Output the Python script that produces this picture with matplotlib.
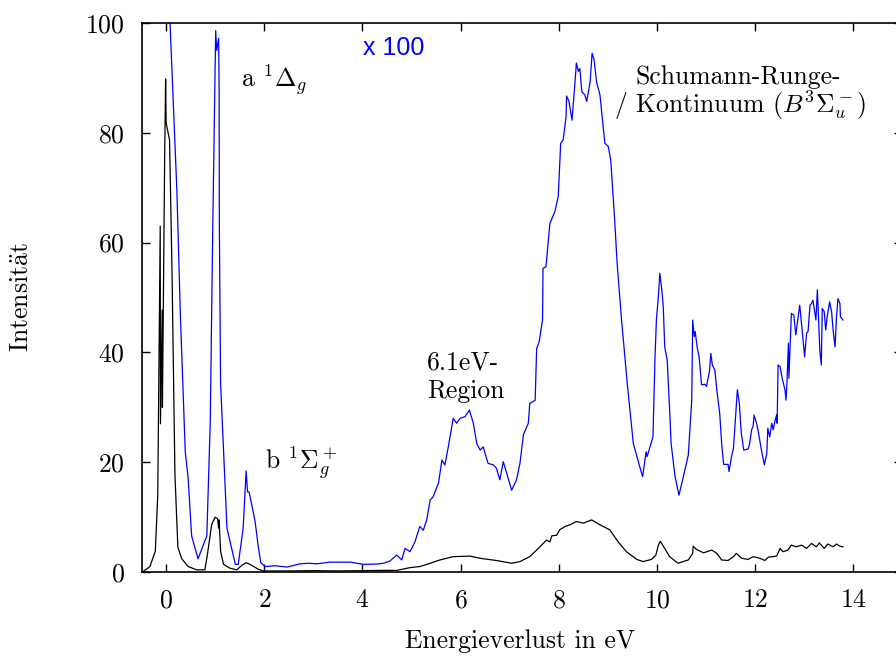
import matplotlib
matplotlib.use('Agg')
import matplotlib.pyplot as plt

plt.rcParams['font.family'] = 'serif'
plt.rcParams['font.serif'] = ['cmr10']
plt.rcParams['mathtext.fontset'] = 'cm'
plt.rcParams['axes.unicode_minus'] = False
plt.rcParams['axes.formatter.use_mathtext'] = True

# spectrum x 100 (blue)
blue_x = [0.05, 0.08, 0.22, 0.29, 0.39, 0.45, 0.52, 0.65, 0.83, 0.90, 0.95, 1.01, 1.03, 1.07, 1.08, 1.085,
          1.11, 1.24, 1.41, 1.47, 1.57, 1.63, 1.66, 1.69, 1.81, 1.88, 1.93, 2.02, 2.22, 2.46, 2.73, 2.90,
          3.07, 3.34, 3.75, 4.02, 4.29, 4.43, 4.56, 4.70, 4.80, 4.87, 4.97, 5.07, 5.17, 5.24, 5.31, 5.38,
          5.44, 5.55, 5.62, 5.68, 5.75, 5.85, 5.92, 5.99, 6.09, 6.18, 6.26, 6.33, 6.40, 6.46, 6.56, 6.67,
          6.73, 6.80, 6.87, 6.95, 7.04, 7.14, 7.21, 7.28, 7.38, 7.41, 7.52, 7.55, 7.60, 7.65, 7.67, 7.68,
          7.74, 7.82, 7.92, 7.99, 8.04, 8.09, 8.15, 8.16, 8.21, 8.27, 8.33, 8.36, 8.40, 8.43, 8.47, 8.53,
          8.57, 8.64, 8.68, 8.72, 8.77, 8.84, 8.94, 9.01, 9.06, 9.14, 9.19, 9.28, 9.40, 9.52, 9.65, 9.71,
          9.78, 9.80, 9.86, 9.92, 9.96, 9.99, 10.03, 10.06, 10.10, 10.13, 10.16, 10.21, 10.26, 10.29, 10.37,
          10.45, 10.54, 10.64, 10.71, 10.73, 10.76, 10.78, 10.82, 10.86, 10.91, 10.98, 11.01, 11.07, 11.10,
          11.13, 11.18, 11.23, 11.28, 11.32, 11.36, 11.45, 11.47, 11.52, 11.56, 11.59, 11.64, 11.68, 11.72,
          11.77, 11.86, 11.89, 11.93, 11.96, 11.98, 12.03, 12.06, 12.13, 12.19, 12.24, 12.26, 12.30, 12.34,
          12.37, 12.41, 12.44, 12.45, 12.47, 12.51, 12.56, 12.61, 12.63, 12.65, 12.68, 12.69, 12.74, 12.79,
          12.83, 12.88, 12.91, 12.96, 13.01, 13.05, 13.08, 13.12, 13.15, 13.18, 13.24, 13.27, 13.32, 13.35,
          13.37, 13.41, 13.44, 13.47, 13.52, 13.56, 13.59, 13.63, 13.66, 13.69, 13.73, 13.74, 13.79]
blue_y = [110, 100, 69.3, 47, 21.9, 17, 6.6, 2.4, 6.6, 27.5, 62.3, 98.6, 95, 97.2, 88, 63,
          34.4, 8, 1.4, 1.4, 8, 18.4, 14.6, 14.6, 9.4, 4.5, 1.7, 1.0, 1.15, 0.9, 1.5, 1.6,
          1.5, 1.8, 1.8, 1.4, 1.45, 1.6, 2.0, 3.1, 2.2, 4.3, 3.7, 5.5, 8.3, 7.6, 9.5, 13.1,
          13.7, 16.2, 20.4, 19.5, 22.8, 28.0, 27.1, 28.0, 28.3, 29.5, 27.1, 23.4, 22.2, 22.8, 19.8, 19.5,
          18.9, 16.8, 20.1, 17.7, 14.9, 16.8, 19.8, 25.0, 27.1, 30.7, 31.3, 40.7, 41.9, 44.7, 45.9, 55.3,
          55.6, 63.5, 65.6, 68.4, 78.1, 78.7, 82.9, 86.7, 85.7, 82.3, 89.0, 92.7, 91.2, 91.7, 87.5, 86.9,
          85.7, 89.3, 94.5, 93.3, 89.3, 86.9, 78.1, 77.5, 75.0, 64.1, 56.2, 45.9, 34.0, 23.4, 19.2, 17.4,
          21.9, 21.0, 22.8, 24.6, 38.6, 45.9, 50.1, 54.4, 51.4, 48.3, 41.0, 38.6, 29.5, 23.4, 17.4,
          14.0, 17.4, 21.3, 31.3, 45.9, 42.9, 43.8, 41.0, 39.2, 34.1, 34.2, 33.8, 36.5, 39.8,
          37.7, 36.8, 32.5, 28.9, 23.4, 19.6, 19.6, 18.3, 21.0, 22.5, 26.5, 33.2, 30.7, 25.3,
          22.2, 22.4, 23.4, 25.9, 26.5, 28.6, 27.1, 25.9, 22.2, 19.5, 21.6, 26.2, 24.6, 27.1,
          25.9, 27.7, 28.6, 27.1, 37.7, 37.4, 35.0, 33.2, 31.3, 34.4, 41.7, 35.3, 47.1, 46.8,
          43.2, 46.5, 48.6, 44.1, 39.2, 43.5, 43.8, 48.6, 48.9, 49.5, 45.9, 51.4, 40.4, 37.7,
          48.0, 47.4, 44.1, 46.5, 49.2, 47.4, 44.1, 41.0, 46.5, 49.8, 48.9, 46.5, 45.9]

# spectrum (black)
black_x = [-0.48, -0.33, -0.22, -0.17, -0.12, -0.115, -0.08, -0.075, -0.03, -0.01, 0.0, 0.07, 0.12,
           0.18, 0.24, 0.32, 0.45, 0.62, 0.79, 0.84, 0.93, 1.0, 1.05, 1.07, 1.08, 1.11, 1.17, 1.30,
           1.44, 1.54, 1.63, 1.71, 1.88, 1.98, 2.5, 3.0, 3.5, 4.0, 4.4, 4.70, 4.97, 5.17, 5.38, 5.58,
           5.85, 6.19, 6.40, 6.73, 7.04, 7.21, 7.41, 7.55, 7.75, 7.82, 7.86, 7.96, 8.02, 8.13, 8.23,
           8.36, 8.50, 8.67, 8.84, 9.04, 9.21, 9.38, 9.59, 9.72, 9.89, 9.98, 10.03, 10.07, 10.16,
           10.26, 10.43, 10.64, 10.73, 10.74, 10.81, 10.95, 11.12, 11.22, 11.32, 11.45, 11.56, 11.62,
           11.73, 11.86, 11.96, 12.10, 12.20, 12.27, 12.44, 12.51, 12.57, 12.67, 12.74, 12.84, 12.95,
           13.05, 13.15, 13.25, 13.31, 13.41, 13.48, 13.59, 13.66, 13.73, 13.79]
black_y = [0, 1, 3.8, 14, 63, 27, 47.7, 30, 75, 89.8, 81.8, 78.7, 55,
           17.7, 4.5, 2.4, 1.0, 0.4, 0.4, 3.1, 8.7, 10, 9.7, 8, 9.5, 3.8, 1.4, 0.7,
           0.4, 1.2, 1.7, 1.4, 0.5, 0.2, 0.2, 0.25, 0.2, 0.25, 0.3, 0.3, 0.8, 1.0, 1.6, 2.2,
           2.8, 2.9, 2.5, 2.1, 1.6, 1.9, 2.8, 4.0, 5.8, 5.5, 6.6, 6.7, 7.7, 8.3, 8.6,
           9.2, 8.9, 9.5, 8.6, 7.7, 5.5, 3.7, 2.3, 1.9, 2.3, 3.1, 4.9, 5.6, 4.3,
           2.8, 1.6, 2.2, 3.4, 4.7, 4.1, 3.5, 4.0, 3.4, 2.2, 2.1, 2.8, 3.4,
           2.5, 2.3, 2.8, 2.5, 2.1, 2.7, 2.9, 4.3, 3.7, 4.0, 4.9, 4.6, 4.9,
           4.3, 5.2, 4.6, 5.3, 4.3, 5.1, 4.6, 5.1, 4.7, 4.6]

x_ticks = [0, 2, 4, 6, 8, 10, 12, 14]
y_ticks = [0, 20, 40, 60, 80, 100]

fig = plt.figure(figsize=(8.96, 6.56), dpi=100)
ax = fig.add_axes([0.158, 0.128, 0.849, 0.837])

ax.plot(blue_x, blue_y, color='#0000ff', lw=0.9)
ax.plot(black_x, black_y, color='black', lw=0.9)

ax.set_xlim(-0.5, 15)
ax.set_ylim(0, 100)
ax.set_xticks(x_ticks)
ax.set_yticks(y_ticks)
ax.tick_params(direction='in', length=6, width=1, top=True, right=True, labelsize=18.5, pad=12)
for s in ax.spines.values():
    s.set_linewidth(1.2)

ax.set_xlabel('Energieverlust in eV', fontsize=18.5)
ax.xaxis.set_label_coords(0.497, -0.105)
ax.set_ylabel(r'Intensit$\ddot{\mathrm{a}}$t', fontsize=18.5)
ax.yaxis.set_label_coords(-0.142, 0.5)

ax.text(4.01, 95.4, 'x 100', color='#0000ff', family='Liberation Sans', fontsize=18, va='center')
ax.text(1.53, 88.3, r'a $^1\Delta_g$', fontsize=18.5, va='baseline')
ax.text(2.02, 18.6, r'b $^1\Sigma_g^+$', fontsize=18.5, va='baseline')
ax.text(5.32, 36.8, '6.1eV-', fontsize=18.5, va='baseline')
ax.text(5.32, 31.7, 'Region', fontsize=18.5, va='baseline')
ax.text(11.65, 88.9, 'Schumann-Runge-', fontsize=18.5, ha='center', va='baseline')
ax.text(11.69, 83.6, r'/ Kontinuum ($B^3\Sigma_u^-$)', fontsize=18.5, ha='center', va='baseline')

plt.savefig('out.png', dpi=100)
